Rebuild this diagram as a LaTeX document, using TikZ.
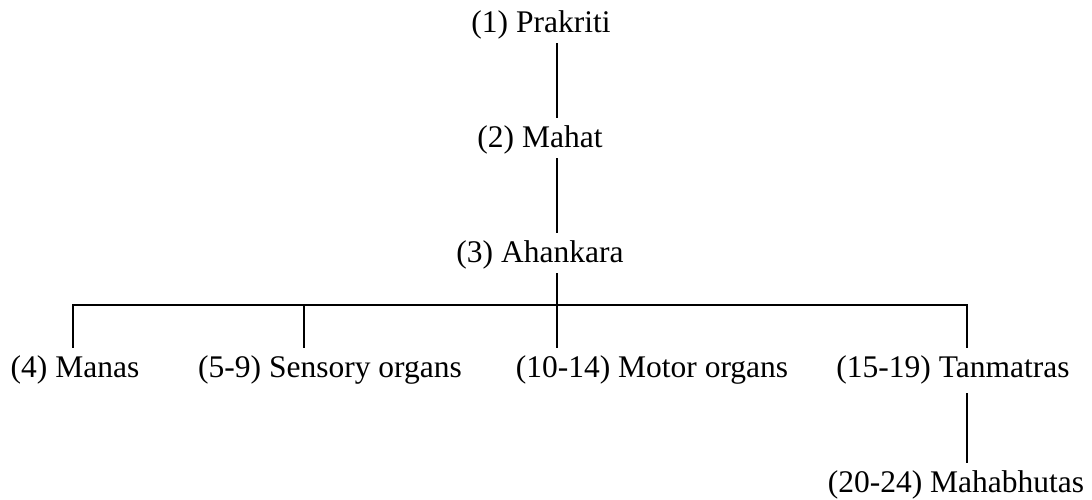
\documentclass[tikz,border=0pt]{standalone}
\usepackage{fontspec}
\setmainfont{Liberation Serif}
\begin{document}
\begin{tikzpicture}[x=1pt,y=1pt,
  term/.style={anchor=base,inner sep=0pt,text height=29pt,text depth=11pt,
    font=\fontsize{31.5}{36}\selectfont},
  link/.style={line width=2pt}]
\useasboundingbox (0,0) rectangle (1092,-499);

% tattvas
\node[term] (p1) at (541,-32)  {(1) Prakriti};
\node[term] (p2) at (540,-147) {(2) Mahat};
\node[term] (p3) at (540,-262) {(3) Ahankara};
\node[term] (m4) at (75,-377)  {(4) Manas};
\node[term] (s5) at (330,-377) {(5-9) Sensory organs};
\node[term] (mo) at (652,-377) {(10-14) Motor organs};
\node[term] (tn) at (953,-377) {(15-19) Tanmatras};
\node[term] (mb) at (956,-492) {(20-24) Mahabhutas};

% junction points of the tree
\coordinate (trunk) at (557,-305);
\coordinate (d4)  at (73,-305);
\coordinate (d5)  at (304,-305);
\coordinate (d15) at (967,-305);

% connectors
\draw[link] (p1.south -| trunk) -- (p2.north -| trunk);
\draw[link] (p2.south -| trunk) -- (p3.north -| trunk);
\draw[link] (p3.south -| trunk) -- (mo.north -| trunk);
\draw[link] (m4.north -| d4) -- (d4) -- (d15) -- (tn.north -| d15);
\draw[link] (d5) -- (s5.north -| d5);
\draw[link] ([yshift=-5pt]tn.south -| d15) -- (mb.north -| d15);
\end{tikzpicture}
\end{document}
